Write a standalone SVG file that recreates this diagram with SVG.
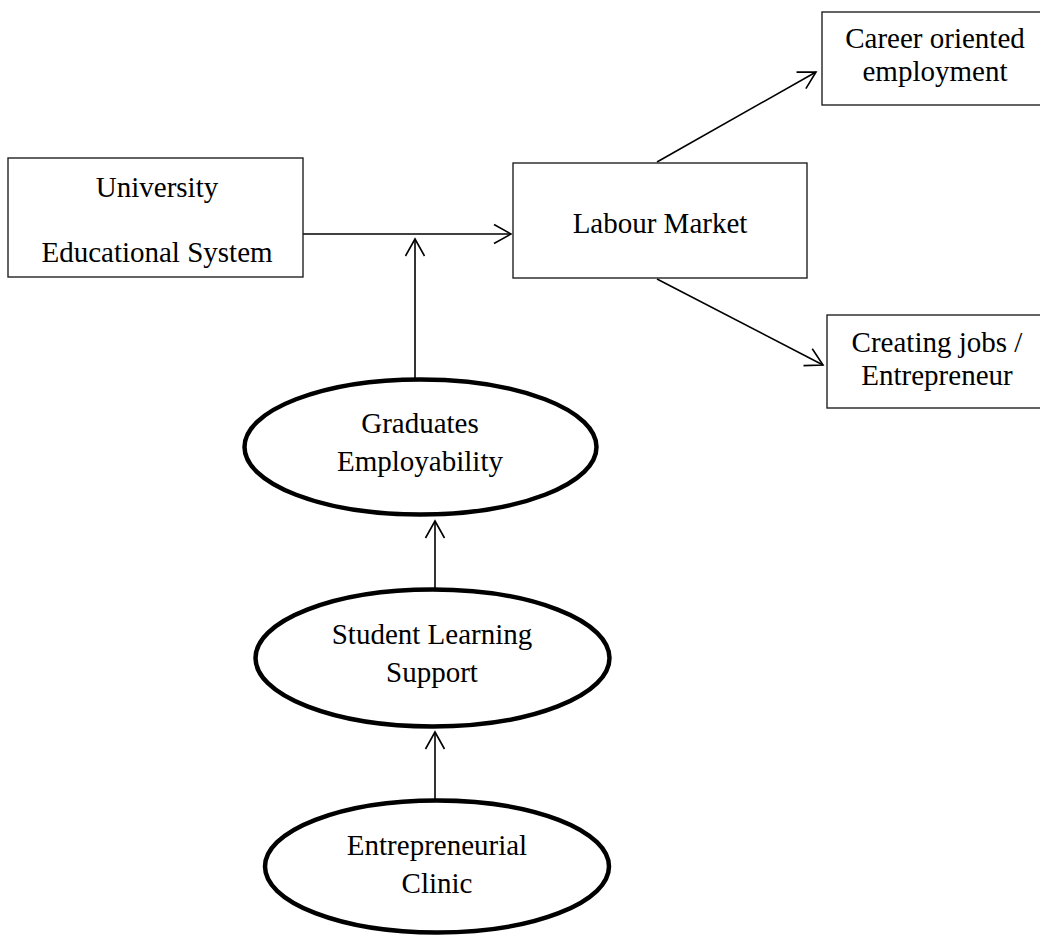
<svg xmlns="http://www.w3.org/2000/svg" width="1040" height="937" viewBox="0 0 1040 937">
<style>
.box{fill:#fff;stroke:#222;stroke-width:1.4}
.ell{fill:#fff;stroke:#000;stroke-width:4.5}
.t{font-family:"Liberation Serif","Times New Roman",serif;font-size:29px;fill:#000;text-anchor:middle}
.c{fill:none;stroke:#000;stroke-width:1.6}
</style>
<defs>
<marker id="arr" markerUnits="userSpaceOnUse" markerWidth="24" markerHeight="24" viewBox="-20 -12 22 24" refX="0" refY="0" orient="auto">
<path d="M-17,-9.5 L0,0 L-17,9.5" fill="none" stroke="#000" stroke-width="1.6"/>
</marker>
</defs>
<rect width="1040" height="937" fill="#fff"/>
<g id="connectors">
<line class="c" x1="303" y1="234" x2="511" y2="234" marker-end="url(#arr)"/>
<line class="c" x1="415" y1="379" x2="415" y2="239" marker-end="url(#arr)"/>
<line class="c" x1="657" y1="162" x2="816" y2="72" marker-end="url(#arr)"/>
<line class="c" x1="657" y1="279" x2="823" y2="365" marker-end="url(#arr)"/>
<line class="c" x1="435" y1="588" x2="435" y2="521" marker-end="url(#arr)"/>
<line class="c" x1="435" y1="799" x2="435" y2="732" marker-end="url(#arr)"/>
</g>
<g id="university">
<rect class="box" x="8" y="158" width="295" height="119"/>
<text class="t" x="157" y="197">University</text>
<text class="t" x="157" y="262">Educational System</text>
</g>
<g id="labour">
<rect class="box" x="513" y="163" width="294" height="115"/>
<text class="t" x="660" y="233">Labour Market</text>
</g>
<g id="career">
<rect class="box" x="822" y="12" width="230" height="93"/>
<text class="t" x="935" y="48">Career oriented</text>
<text class="t" x="935" y="81">employment</text>
</g>
<g id="creating">
<rect class="box" x="827" y="315" width="230" height="93"/>
<text class="t" x="937" y="352">Creating jobs /</text>
<text class="t" x="937" y="385">Entrepreneur</text>
</g>
<g id="graduates">
<ellipse class="ell" cx="420.5" cy="447" rx="176" ry="67.5"/>
<text class="t" x="420" y="433">Graduates</text>
<text class="t" x="420" y="471">Employability</text>
</g>
<g id="student">
<ellipse class="ell" cx="432.5" cy="658" rx="177" ry="68.5"/>
<text class="t" x="432" y="644">Student Learning</text>
<text class="t" x="432" y="682">Support</text>
</g>
<g id="clinic">
<ellipse class="ell" cx="437" cy="866.5" rx="172" ry="66"/>
<text class="t" x="437" y="855">Entrepreneurial</text>
<text class="t" x="437" y="893">Clinic</text>
</g>
</svg>
